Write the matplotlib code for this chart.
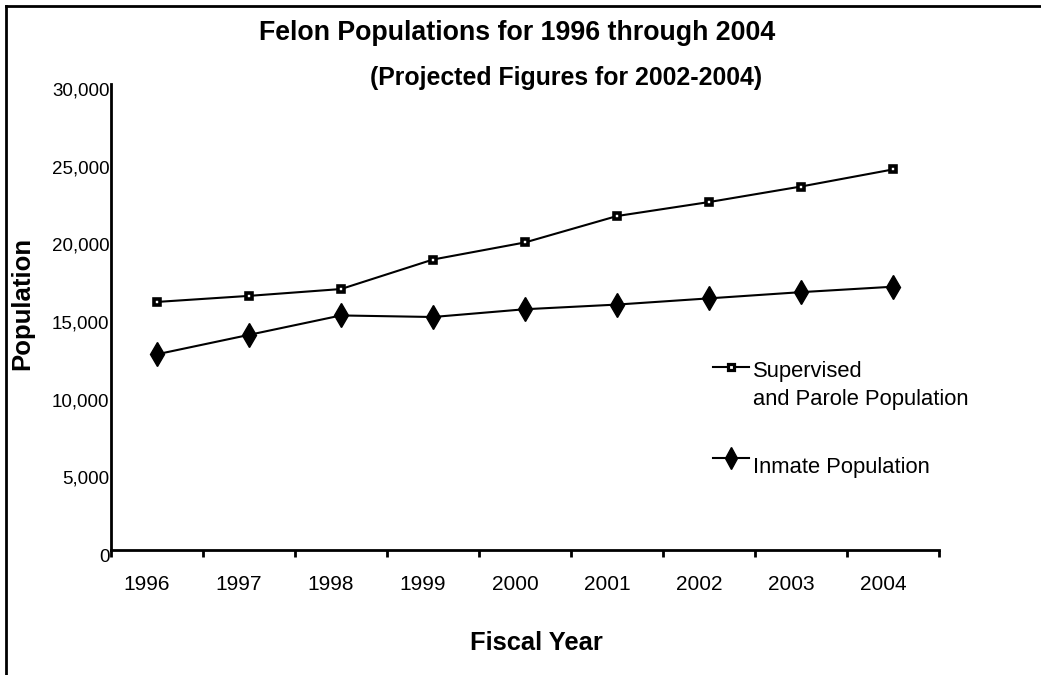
import numpy as np
import matplotlib
matplotlib.use('Agg')
import matplotlib.pyplot as plt
import matplotlib.transforms as mtransforms
from matplotlib.lines import Line2D

plt.rcParams['font.family'] = ['Liberation Sans', 'DejaVu Sans']

# Données
years = ['1996', '1997', '1998', '1999', '2000', '2001', '2002', '2003', '2004']
supervised = [15970, 16360, 16800, 18700, 19800, 21500, 22400, 23400, 24500]
inmate = [12600, 13850, 15100, 15000, 15500, 15800, 16200, 16600, 16950]
yticks = [0, 5000, 10000, 15000, 20000, 25000, 30000]

W, H = 1041, 675
fig = plt.figure(figsize=(W / 100, H / 100), dpi=100)
ax = fig.add_axes([111 / W, 1 - 550 / H, (939 - 111) / W, (550 - 84) / H])

x = np.arange(len(years))
ax.plot(x, supervised, color='black', lw=1.5, marker='s', ms=4.5, mew=2.6,
        mfc='white', mec='black', clip_on=False)
ax.plot(x, inmate, color='black', lw=1.5, marker='d', ms=12,
        mfc='black', mec='black', clip_on=False)

ax.set_xlim(-0.5, len(years) - 0.5)
ax.set_ylim(0, 30000)

for s in ['top', 'right']:
    ax.spines[s].set_visible(False)
for s in ['left', 'bottom']:
    ax.spines[s].set_linewidth(2)

# axe x: libellés au centre, graduations aux limites
ax.set_xticks(x)
ax.set_xticklabels(years, fontsize=15)
ax.tick_params(axis='x', which='major', length=0, pad=18)
ax.set_xticks(np.arange(len(years) + 1) - 0.5, minor=True)
ax.tick_params(axis='x', which='minor', length=5, width=2, direction='out')
xoff = mtransforms.ScaledTranslation(-10 / 100, 0, fig.dpi_scale_trans)
for lab in ax.get_xticklabels():
    lab.set_transform(lab.get_transform() + xoff)

ax.set_yticks(yticks)
ax.set_yticklabels([f'{v:,}' for v in yticks], fontsize=13.5)
ax.tick_params(axis='y', length=0, pad=1)
off = mtransforms.ScaledTranslation(0, -5 / 100, fig.dpi_scale_trans)
for lab in ax.get_yticklabels():
    lab.set_transform(lab.get_transform() + off)

# titres
fig.text(517 / W, 1 - 33 / H, 'Felon Populations for 1996 through 2004',
         ha='center', va='center', fontsize=19.3, fontweight='bold')
fig.text(566 / W, 1 - 78 / H, '(Projected Figures for 2002-2004)',
         ha='center', va='center', fontsize=17.9, fontweight='bold')
fig.text(22 / W, 1 - 303 / H, 'Population', rotation=90,
         ha='center', va='center', fontsize=18.5, fontweight='bold')
fig.text(536 / W, 1 - 643 / H, 'Fiscal Year',
         ha='center', va='center', fontsize=18.4, fontweight='bold')

# légende
def leg_handle(ypix, marker, ms, mfc, mew):
    fig.add_artist(Line2D([713 / W, 749 / W], [1 - ypix / H, 1 - ypix / H],
                          color='black', lw=1.5))
    fig.add_artist(Line2D([731 / W], [1 - ypix / H], marker=marker, ms=ms,
                          mfc=mfc, mec='black', mew=mew, lw=0))

leg_handle(367, 's', 3.8, 'white', 2.3)
leg_handle(458, 'd', 11, 'black', 1)
fig.text(753 / W, 1 - 372 / H, 'Supervised', ha='left', va='center', fontsize=15.8)
fig.text(753 / W, 1 - 400 / H, 'and Parole Population', ha='left', va='center', fontsize=15.8)
fig.text(753 / W, 1 - 467 / H, 'Inmate Population', ha='left', va='center', fontsize=15.8)

# cadre
fig.add_artist(Line2D([6 / W, 1], [1 - 6 / H, 1 - 6 / H], color='black', lw=2))
fig.add_artist(Line2D([6 / W, 6 / W], [0, 1 - 6 / H], color='black', lw=2))

fig.savefig('out.png', dpi=100)
